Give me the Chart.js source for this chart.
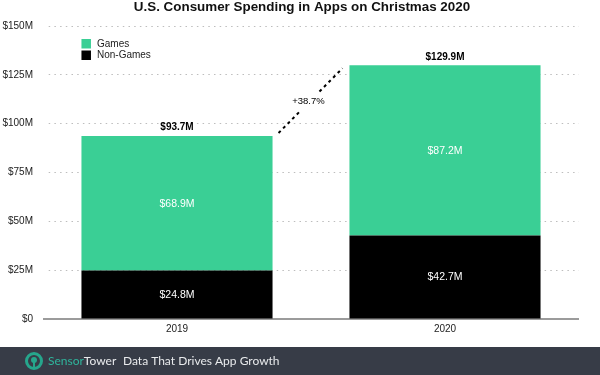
<!DOCTYPE html>
<html>
<head>
<meta charset="utf-8">
<style>
html,body{margin:0;padding:0;background:#fff;overflow:hidden}
#wrap{width:600px;height:375px;position:relative}
canvas{display:block}
</style>
<script src="https://cdn.jsdelivr.net/npm/chart.js@4/dist/chart.umd.min.js"></script>
</head>
<body>
<div id="wrap"><canvas id="c" width="600" height="375"></canvas></div>
<script>
const categories = ['2019', '2020'];
const nonGames = [24.8, 42.7];
const games = [68.9, 87.2];
const totals = ['$93.7M', '$129.9M'];
const growthLabel = '+38.7%';
const titleText = 'U.S. Consumer Spending in Apps on Christmas 2020';
const footerBrandA = 'Sensor';
const footerBrandB = 'Tower';
const footerTagline = 'Data That Drives App Growth';

const GREEN = '#3acf95';
const FONT = '"Liberation Sans", Arial, sans-serif';
const FOOT = 'Lato, "Open Sans", sans-serif';

const overlay = {
  id: 'overlay',
  afterLayout(chart) {
    chart.titleBlock.left = 0;
    chart.titleBlock.right = 604;
  },
  beforeDatasetsDraw(chart) {
    const c = chart.ctx, a = chart.chartArea;
    c.save();
    c.fillStyle = '#fff';
    c.fillRect(a.left, a.top - 3, 4, a.height + 3);
    c.fillRect(a.left, a.bottom - 2, a.width, 4);
    c.strokeStyle = '#7a7a7a'; c.lineWidth = 1.5;
    c.beginPath(); c.moveTo(a.left, a.bottom); c.lineTo(a.right, a.bottom); c.stroke();
    c.restore();
  },
  afterDatasetsDraw(chart) {
    const c = chart.ctx;
    const m0 = chart.getDatasetMeta(0).data, m1 = chart.getDatasetMeta(1).data;
    c.save();
    // segment labels
    c.textAlign = 'center'; c.textBaseline = 'middle';
    c.fillStyle = '#fff'; c.font = '10.5px ' + FONT;
    chart.data.datasets.forEach((ds, di) => {
      chart.getDatasetMeta(di).data.forEach((b, i) => {
        c.fillText('$' + ds.data[i].toFixed(1) + 'M', b.x, (b.y + b.base) / 2 + 0.5);
      });
    });
    // totals
    c.fillStyle = '#000'; c.font = 'bold 10px ' + FONT;
    m1.forEach((b, i) => c.fillText(totals[i], b.x, b.y - 8.5));
    // growth connector
    const x0 = m1[0].x + m1[0].width / 2 + 6, y0 = m1[0].y - 3;
    const x1 = m1[1].x - m1[1].width / 2 - 7, y1 = m1[1].y + 3;
    c.strokeStyle = '#000'; c.lineWidth = 2; c.setLineDash([3, 3.5]);
    const mx = (x0 + x1) / 2, my = (y0 + y1) / 2;
    c.beginPath();
    c.moveTo(x0, y0); c.lineTo(x0 + (x1 - x0) * 0.33, y0 + (y1 - y0) * 0.33);
    c.moveTo(x0 + (x1 - x0) * 0.64, y0 + (y1 - y0) * 0.64); c.lineTo(x1, y1);
    c.stroke(); c.setLineDash([]);
    c.fillStyle = '#000'; c.font = '9.5px ' + FONT;
    c.fillText(growthLabel, mx - 2, my + 1);
    // legend
    const lx = m0[0].x - m0[0].width / 2;
    c.textAlign = 'left';
    c.font = '10px ' + FONT;
    [1, 0].forEach((d, i) => {
      const ds = chart.data.datasets[d], ty = 39 + i * 11.5;
      c.fillStyle = ds.backgroundColor;
      c.fillRect(lx, ty, 9.5, 9.5);
      c.fillStyle = '#222';
      c.fillText(ds.label, lx + 15.5, ty + 5);
    });
    // footer
    c.fillStyle = '#373c47'; c.fillRect(0, 347, 600, 28);
    c.strokeStyle = '#26a68c'; c.lineWidth = 3;
    c.beginPath(); c.arc(34, 361, 7.5, 0, Math.PI * 2); c.stroke();
    c.fillStyle = '#26a68c';
    c.beginPath(); c.arc(34, 360, 3, 0, Math.PI * 2); c.fill();
    c.fillRect(33, 360, 2, 9);
    c.textBaseline = 'middle'; c.textAlign = 'left';
    c.font = '12px ' + FOOT;
    c.fillStyle = '#2fb59c'; c.fillText(footerBrandA, 48, 361);
    const w = c.measureText(footerBrandA).width;
    c.fillStyle = '#e8eaec'; c.fillText(footerBrandB, 48 + w, 361);
    c.fillText(footerTagline, 123, 361);
    c.restore();
  }
};

new Chart(document.getElementById('c'), {
  type: 'bar',
  data: {
    labels: categories,
    datasets: [
      { label: 'Non-Games', data: nonGames, backgroundColor: '#000000', stack: 's' },
      { label: 'Games', data: games, backgroundColor: GREEN, stack: 's' }
    ]
  },
  options: {
    responsive: false,
    animation: false,
    layout: { padding: { left: 0, right: 21, top: 0, bottom: 28 } },
    datasets: { bar: { categoryPercentage: 0.713, barPercentage: 1 } },
    plugins: {
      legend: { display: false },
      tooltip: { enabled: false },
      title: {
        display: true, text: titleText, color: '#111',
        font: { family: FONT, size: 13.4, weight: 'bold' },
        padding: { top: -1, bottom: 10.92 }
      }
    },
    scales: {
      x: {
        stacked: true,
        afterFit(s) { s.height = 28; },
        grid: { display: false, drawTicks: false },
        border: { display: false },
        ticks: { color: '#222', font: { family: FONT, size: 10 }, padding: 4 }
      },
      y: {
        stacked: true, min: 0, max: 150,
        afterFit(s) { s.width = 43; },
        grid: { drawTicks: false, lineWidth: 1, color: '#bdbdbd' },
        border: { display: false, dash: [1.5, 4.2] },
        ticks: {
          stepSize: 25, color: '#222', padding: 10,
          font: { family: FONT, size: 10 },
          callback: v => v === 0 ? '$0' : '$' + v + 'M'
        }
      }
    }
  },
  plugins: [overlay]
});
</script>
</body>
</html>
